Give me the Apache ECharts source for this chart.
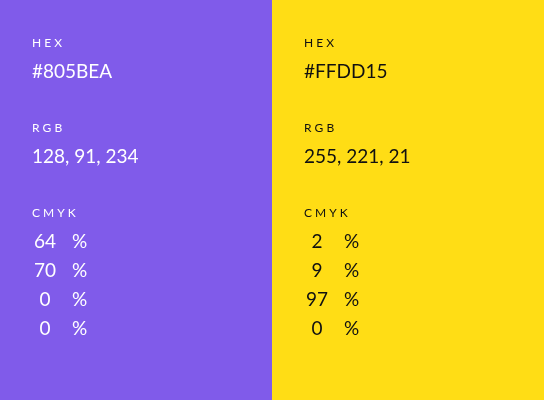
<!DOCTYPE html>
<html><head><meta charset="utf-8">
<script src="https://cdn.jsdelivr.net/npm/echarts@6/dist/echarts.min.js"></script>
<style>html,body{margin:0;padding:0}#c{width:544px;height:400px}</style>
</head><body><div id="c"></div>
<script>
// one swatch per panel
const swatchColors = ['#805BEA', '#FFDD15'];
const textColors = ['#ffffff', '#111111'];
const hexLabels = ['#805BEA', '#FFDD15'];
const rgbLabels = ['128, 91, 234', '255, 221, 21'];
const cmykValues = [[64, 70, 0, 0], [2, 9, 97, 0]];

const W = 544, H = 400, panelW = W / 2;
const font = 'Lato, "Noto Sans", sans-serif';
const elements = [];

swatchColors.forEach((col, i) => {
  const x0 = i * panelW;
  const tx = x0 + 32;
  const fill = textColors[i];
  elements.push({ type: 'rect', shape: { x: x0, y: 0, width: panelW, height: H }, style: { fill: col } });
  const small = (text, y) => elements.push({ type: 'text', x: tx, y, style: { text, fill, font: '400 12px ' + font, textVerticalAlign: 'middle' } });
  const big = (text, y, x, align) => elements.push({ type: 'text', x: x, y, style: { text, fill, font: '400 19px ' + font, textAlign: align || 'left', textVerticalAlign: 'middle' } });
  small('H E X', 43);
  big(hexLabels[i], 72, tx);
  small('R G B', 128);
  big(rgbLabels[i], 157, tx);
  small('C M Y K', 213);
  cmykValues[i].forEach((v, k) => {
    const y = 242 + k * 29;
    big(String(v), y, tx + 13, 'center');
    big('%', y, tx + 40);
  });
});

const chart = echarts.init(document.getElementById('c'));
chart.setOption({ animation: false, graphic: { elements } });
</script></body></html>
